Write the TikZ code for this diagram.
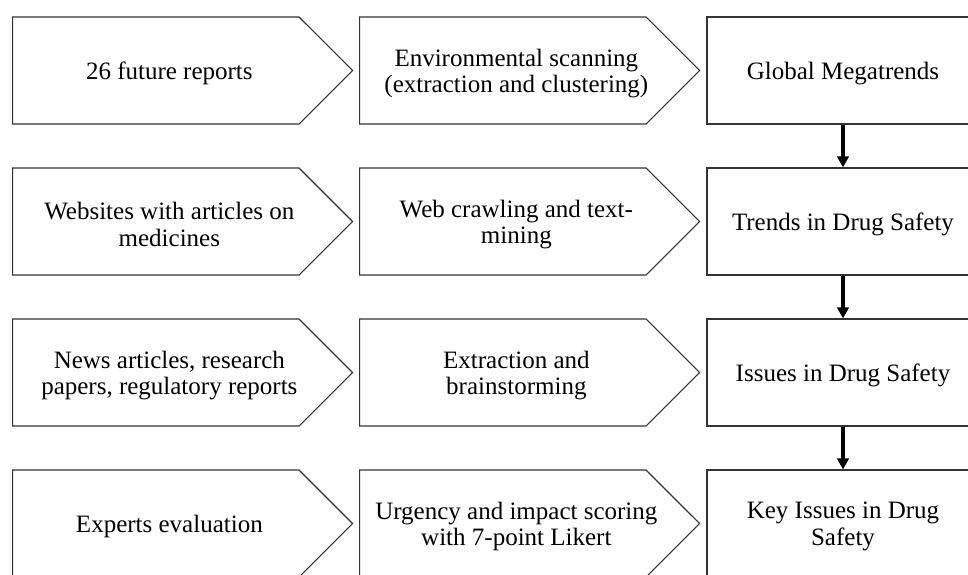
\documentclass[tikz,border=0pt]{standalone}
\usepackage{fontspec}
\setmainfont{Liberation Serif}
\usetikzlibrary{shapes.symbols,arrows.meta}

\begin{document}
\begin{tikzpicture}[x=1pt,y=-1pt]
\tikzset{pas/.style={draw=black!80, line width=1.2pt, shape=signal, signal to=east, signal from=nowhere, signal pointer angle=90, minimum width=340pt, minimum height=107pt, inner sep=0pt},
  resultat/.style={draw=black!80, line width=1.2pt, rectangle, minimum width=272pt, minimum height=107pt, inner sep=0pt},
  texte/.style={yshift=-3pt, inner sep=0pt, align=center, font=\fontsize{25}{26.5}\selectfont},
  textepas/.style={texte, xshift=13.5pt},
  fleche/.style={draw=black, line width=3.5pt, -{Triangle[length=11pt,width=11.5pt]}}}
\useasboundingbox (0,0) rectangle (968,574);
\clip (0,0) rectangle (968,574);
\node[pas, anchor=west, label={[textepas]center:26 future reports}] (S1) at (12,70.5) {};
\node[pas, anchor=west, label={[textepas]center:{Websites with articles on\\medicines}}] (S2) at (12,221.5) {};
\node[pas, anchor=west, label={[textepas]center:{News articles, research\\papers, regulatory reports}}] (S3) at (12,372.5) {};
\node[pas, anchor=west, label={[textepas]center:Experts evaluation}] (S4) at (12,523.5) {};
\node[pas, anchor=west, label={[textepas]center:{Environmental scanning\\(extraction and clustering)}}] (M1) at (359,70.5) {};
\node[pas, anchor=west, label={[textepas]center:{Web crawling and text-\\mining}}] (M2) at (359,221.5) {};
\node[pas, anchor=west, label={[textepas]center:{Extraction and\\brainstorming}}] (M3) at (359,372.5) {};
\node[pas, anchor=west, label={[textepas]center:{Urgency and impact scoring\\with 7-point Likert}}] (M4) at (359,523.5) {};
\node[resultat, label={[texte]center:Global Megatrends}] (R1) at (843,70.5) {};
\node[resultat, label={[texte]center:Trends in Drug Safety}] (R2) at (843,221.5) {};
\node[resultat, label={[texte]center:Issues in Drug Safety}] (R3) at (843,372.5) {};
\node[resultat, label={[texte]center:{Key Issues in Drug\\Safety}}] (R4) at (843,523.5) {};
\draw[fleche] (R1) -- (R2);
\draw[fleche] (R2) -- (R3);
\draw[fleche] (R3) -- (R4);
\end{tikzpicture}
\end{document}
